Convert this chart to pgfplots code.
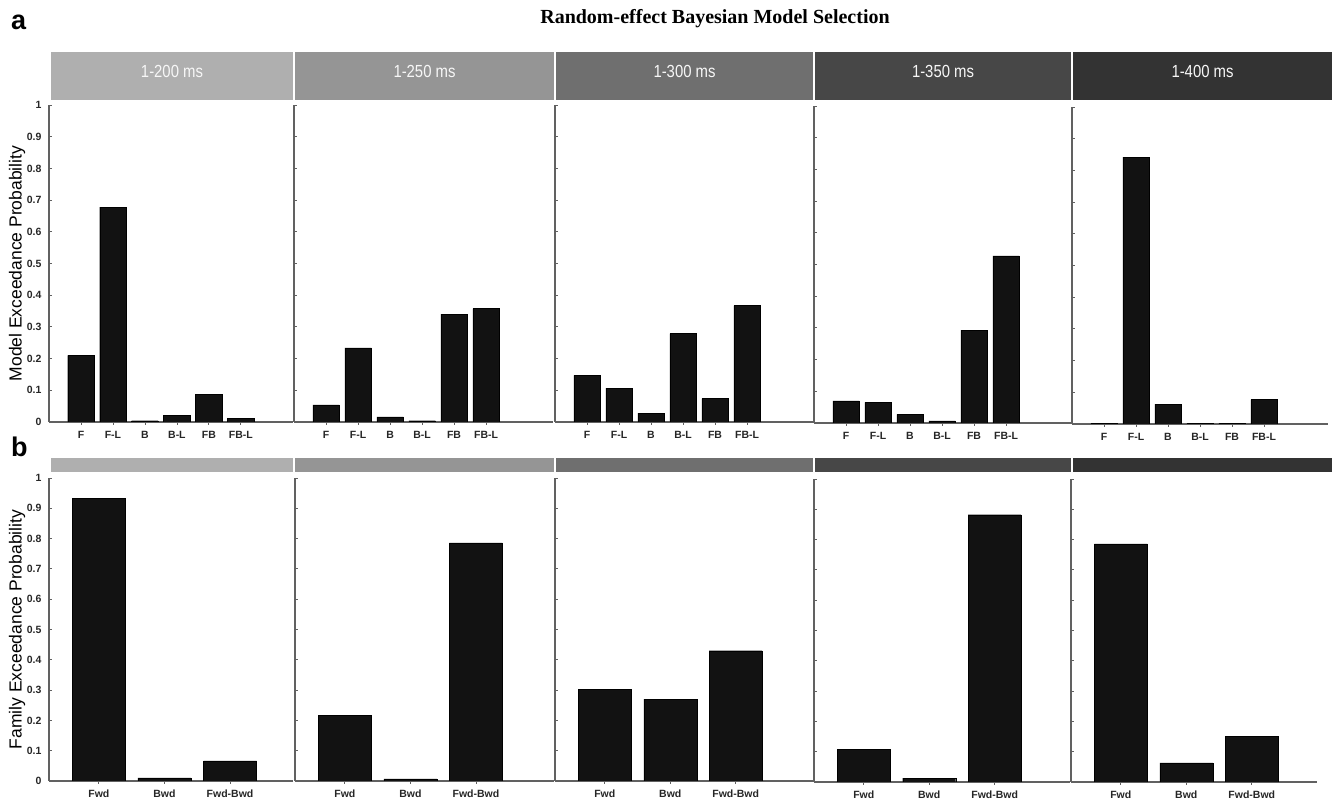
\documentclass[border=0pt]{standalone}
\usepackage{fontspec}
\setmainfont{Liberation Sans}
\newfontfamily\titlefont{Liberation Serif}
\newfontfamily\headfont[FakeStretch=0.85]{Liberation Sans}
\usepackage{pgfplots}
\pgfplotsset{compat=1.18}
\definecolor{hA}{gray}{0.685}
\definecolor{hB}{gray}{0.585}
\definecolor{hC}{gray}{0.435}
\definecolor{hD}{gray}{0.28}
\definecolor{hE}{gray}{0.20}
\definecolor{barfill}{gray}{0.07}
\pgfplotsset{
 rbms/.style={
  scale only axis, anchor=south west,
  axis lines=left, axis line style={-, draw=black!62, line width=1.1pt},
  tick style={draw=black!62, line width=0.8pt},
  tick align=inside, major tick length=3pt,
  ymin=0, ymax=1, ytick={0,0.1,0.2,0.3,0.4,0.5,0.6,0.7,0.8,0.9,1},
  tick label style={font=\fontsize{10.5}{11}\selectfont\bfseries, text=black!85},
  /pgf/number format/assume math mode=true,
  yticklabel style={xshift=-4pt},
  xticklabel style={yshift=-2.5pt},
  xtick=data, ybar,
  cycle list={{fill=barfill, draw=black!50, line width=0.6pt}},
  ylabel style={font=\fontsize{17.5}{18}\selectfont, at={(axis description cs:-0.131,0.5)}, anchor=center},
 },
 rowa/.style={rbms, height=317pt, bar width=26.5pt, xmin=0,
  xticklabels={F,F-L,B,B-L,FB,FB-L}},
 rowb/.style={rbms, height=303pt, bar width=53pt, xmin=0.24,
  xticklabels={Fwd,Bwd,Fwd-Bwd}},
}
\begin{document}
\begin{tikzpicture}
\path[use as bounding box] (0,0) rectangle (1333pt,799pt);
% title and panel letters
\node[font=\titlefont\bfseries\fontsize{20}{22}\selectfont, anchor=center] at (715pt,780pt) {Random-effect Bayesian Model Selection};
\node[font=\bfseries\fontsize{27}{28}\selectfont, anchor=base west, inner sep=0pt] at (11pt,769pt) {a};
\node[font=\bfseries\fontsize{27}{28}\selectfont, anchor=base west, inner sep=0pt] at (11pt,342pt) {b};
% header bars
\foreach \l/\r/\c/\t in {51/293/hA/1-200 ms,295/554/hB/1-250 ms,556/813/hC/1-300 ms,815/1071/hD/1-350 ms,1073/1332/hE/1-400 ms}{
  \fill[\c] (\l pt,699pt) rectangle (\r pt,747pt);
  \node[font=\headfont\fontsize{17.5}{19}\selectfont, text=white!97!black] at ({(\l+\r)/2*1pt},728pt) {\t};
  \fill[\c] (\l pt,327pt) rectangle (\r pt,341pt);
}
% ---------- row a ----------
\begin{axis}[rowa, at={(49pt,377pt)}, width=244pt, xmax=7.63,
  ylabel={Model Exceedance Probability}]
\addplot coordinates {(1,0.210) (2,0.678) (3,0.004) (4,0.021) (5,0.087) (6,0.012)};
\end{axis}
\begin{axis}[rowa, at={(294pt,377pt)}, width=259pt, xmax=8.09, yticklabels={}]
\addplot coordinates {(1,0.054) (2,0.234) (3,0.016) (4,0.004) (5,0.340) (6,0.358)};
\end{axis}
\begin{axis}[rowa, at={(555pt,377pt)}, width=258pt, xmax=8.06, yticklabels={}]
\addplot coordinates {(1,0.147) (2,0.107) (3,0.028) (4,0.279) (5,0.074) (6,0.367)};
\end{axis}
\begin{axis}[rowa, at={(814pt,376pt)}, width=257pt, xmax=8.03, yticklabels={}]
\addplot coordinates {(1,0.070) (2,0.065) (3,0.027) (4,0.007) (5,0.293) (6,0.527)};
\end{axis}
\begin{axis}[rowa, at={(1072pt,375pt)}, width=256pt, xmax=8.0, yticklabels={}]
\addplot coordinates {(1,0.002) (2,0.842) (3,0.063) (4,0.003) (5,0.003) (6,0.077)};
\end{axis}
% ---------- row b ----------
\begin{axis}[rowb, at={(49pt,18pt)}, width=244pt, xmax=3.96,
  ylabel={Family Exceedance Probability}]
\addplot coordinates {(1,0.932) (2,0.010) (3,0.066)};
\end{axis}
\begin{axis}[rowb, at={(295pt,18pt)}, width=259pt, xmax=4.19, yticklabels={}]
\addplot coordinates {(1,0.216) (2,0.007) (3,0.786)};
\end{axis}
\begin{axis}[rowb, at={(555pt,18pt)}, width=258pt, xmax=4.18, yticklabels={}]
\addplot coordinates {(1,0.303) (2,0.270) (3,0.430)};
\end{axis}
\begin{axis}[rowb, at={(814pt,17pt)}, width=256pt, xmax=4.15, yticklabels={}]
\addplot coordinates {(1,0.107) (2,0.013) (3,0.882)};
\end{axis}
\begin{axis}[rowb, at={(1071pt,17pt)}, width=246pt, xmax=3.996, yticklabels={}]
\addplot coordinates {(1,0.786) (2,0.063) (3,0.150)};
\end{axis}
\end{tikzpicture}
\end{document}
